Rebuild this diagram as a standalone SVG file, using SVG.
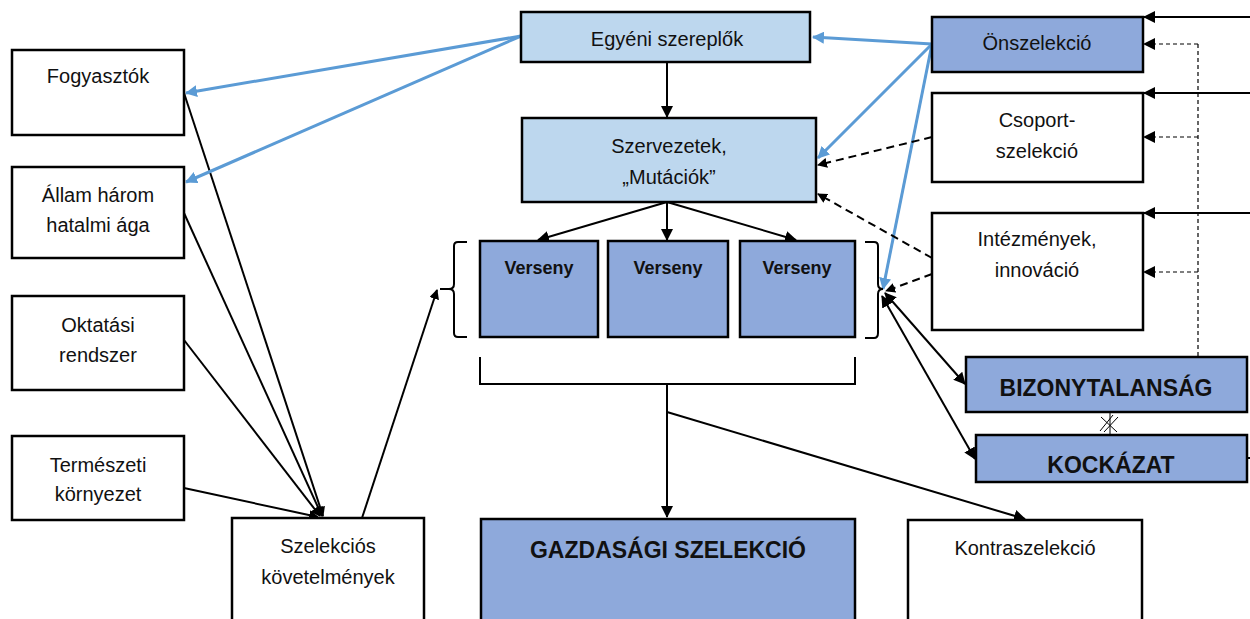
<svg xmlns="http://www.w3.org/2000/svg" width="1250" height="619" viewBox="0 0 1250 619">
<style>
.box{stroke:#000;stroke-width:2.5}
.w{fill:#fff}
.lb{fill:#BDD7EE}
.db{fill:#8EA9DB}
text{font-family:"Liberation Sans",Arial,sans-serif;font-size:20px;fill:#111;text-anchor:middle}
.b{font-weight:bold}
.big{font-size:23px}
.v{font-size:18px}
.c{fill:none;stroke:#000;stroke-width:2}
.d{fill:none;stroke:#000;stroke-width:2;stroke-dasharray:8,5}
.t{fill:none;stroke:#000;stroke-width:1.2;stroke-dasharray:4,3}
.bl{fill:none;stroke:#5B9BD5;stroke-width:3}
</style>
<defs>
<marker id="a" markerWidth="10" markerHeight="10" refX="9" refY="5" orient="auto" markerUnits="userSpaceOnUse" viewBox="0 0 10 10"><path d="M0,0 L10,5 L0,10 z" fill="#000"/></marker>
<marker id="as" markerWidth="12" markerHeight="12" refX="11" refY="6" orient="auto-start-reverse" markerUnits="userSpaceOnUse" viewBox="0 0 12 12"><path d="M0,0 L12,6 L0,12 z" fill="#000"/></marker>
<marker id="ab" markerWidth="12" markerHeight="12" refX="11" refY="6" orient="auto" markerUnits="userSpaceOnUse" viewBox="0 0 12 12"><path d="M0,0 L12,6 L0,12 z" fill="#5B9BD5"/></marker>
</defs>

<g id="connectors">
<line class="c" x1="184" y1="93" x2="323" y2="516" marker-end="url(#a)"/>
<line class="c" x1="184" y1="213" x2="322" y2="516" marker-end="url(#a)"/>
<line class="c" x1="184" y1="340" x2="320" y2="516" marker-end="url(#a)"/>
<line class="c" x1="184" y1="488" x2="318" y2="517" marker-end="url(#a)"/>
<line class="c" x1="362" y1="518" x2="437" y2="290" marker-end="url(#a)"/>
<line class="c" x1="667" y1="62" x2="667" y2="117" marker-end="url(#as)"/>
<line class="c" x1="667" y1="202" x2="538" y2="240" marker-end="url(#as)"/>
<line class="c" x1="667" y1="202" x2="667" y2="240" marker-end="url(#as)"/>
<line class="c" x1="667" y1="202" x2="796" y2="240" marker-end="url(#as)"/>
<path class="c" d="M480,357 V384 H855 V357"/>
<line class="c" x1="667" y1="384" x2="667" y2="517" marker-end="url(#as)"/>
<line class="c" x1="667" y1="412" x2="1025" y2="519" marker-end="url(#as)"/>
<line class="bl" x1="521" y1="36" x2="186" y2="93" marker-end="url(#ab)"/>
<line class="bl" x1="521" y1="36" x2="186" y2="182" marker-end="url(#ab)"/>
<line class="bl" x1="932" y1="44" x2="813" y2="37" marker-end="url(#ab)"/>
<line class="bl" x1="932" y1="44" x2="818" y2="158" marker-end="url(#ab)"/>
<line class="bl" x1="932" y1="44" x2="883" y2="289" marker-end="url(#ab)"/>
<line class="d" x1="932" y1="137" x2="818" y2="165" marker-end="url(#a)"/>
<line class="d" x1="932" y1="258" x2="818" y2="194" marker-end="url(#a)"/>
<line class="d" x1="932" y1="274" x2="886" y2="291" marker-end="url(#a)"/>
<line class="c" x1="885" y1="293" x2="965" y2="384" marker-start="url(#as)" marker-end="url(#as)"/>
<line class="c" x1="882" y1="296" x2="975" y2="459" marker-start="url(#as)" marker-end="url(#as)"/>
<line class="c" x1="1250" y1="17" x2="1144" y2="17" marker-end="url(#as)"/>
<line class="c" x1="1250" y1="93" x2="1144" y2="93" marker-end="url(#as)"/>
<line class="c" x1="1250" y1="213" x2="1144" y2="213" marker-end="url(#as)"/>
<line class="t" x1="1198" y1="44" x2="1198" y2="357"/>
<line class="t" x1="1198" y1="44" x2="1144" y2="44" marker-end="url(#as)"/>
<line class="t" x1="1198" y1="137" x2="1144" y2="137" marker-end="url(#as)"/>
<line class="t" x1="1198" y1="272" x2="1144" y2="272" marker-end="url(#as)"/>
<line class="c" x1="1247" y1="458" x2="1250" y2="458"/>
<g stroke="#000" stroke-width="1" fill="none">
<line x1="1110" y1="412" x2="1110" y2="435"/>
<line x1="1100" y1="431" x2="1113" y2="415"/>
<line x1="1104" y1="432" x2="1118" y2="417"/>
<line x1="1101" y1="417" x2="1117" y2="432"/>
</g>
</g>

<g id="brace-left"><path class="c" d="M467,242 H458 Q454,242 454,246 V284 Q454,289 449,289 H440 M449,289 Q454,289 454,294 V333 Q454,337 458,337 H467"/></g>
<g id="brace-right"><path class="c" d="M865,242 H874 Q878,242 878,246 V284 Q878,289 883,289 M883,289 Q878,289 878,294 V333 Q878,338 874,338 H865"/></g>

<g id="egyeni"><rect class="box lb" x="521" y="12" width="289" height="50"/><text x="667" y="46">Egyéni szereplők</text></g>
<g id="szervezetek"><rect class="box lb" x="522" y="118" width="294" height="84"/><text x="669" y="153">Szervezetek,</text><text x="669" y="184">„Mutációk”</text></g>
<g id="onszelekcio"><rect class="box db" x="932" y="17" width="211" height="55"/><text x="1037" y="50">Önszelekció</text></g>
<g id="csoport"><rect class="box w" x="932" y="93" width="211" height="89"/><text x="1037" y="127">Csoport-</text><text x="1037" y="158">szelekció</text></g>
<g id="intezmenyek"><rect class="box w" x="932" y="213" width="211" height="117"/><text x="1037" y="246">Intézmények,</text><text x="1037" y="277">innováció</text></g>
<g id="bizonytalansag"><rect class="box db" x="966" y="357" width="281" height="55"/><text class="b big" x="1106" y="396">BIZONYTALANSÁG</text></g>
<g id="kockazat"><rect class="box db" x="976" y="435" width="271" height="47"/><text class="b big" x="1111" y="473">KOCKÁZAT</text></g>

<g id="verseny1"><rect class="box db" x="480" y="241" width="118" height="96"/><text class="b v" x="539" y="274">Verseny</text></g>
<g id="verseny2"><rect class="box db" x="608" y="241" width="120" height="96"/><text class="b v" x="668" y="274">Verseny</text></g>
<g id="verseny3"><rect class="box db" x="740" y="241" width="115" height="96"/><text class="b v" x="797" y="274">Verseny</text></g>

<g id="fogyasztok"><rect class="box w" x="12" y="50" width="172" height="85"/><text x="98" y="83">Fogyasztók</text></g>
<g id="allam"><rect class="box w" x="12" y="167" width="172" height="91"/><text x="98" y="202">Állam három</text><text x="98" y="232">hatalmi ága</text></g>
<g id="oktatasi"><rect class="box w" x="12" y="296" width="172" height="94"/><text x="98" y="332">Oktatási</text><text x="98" y="362">rendszer</text></g>
<g id="termeszeti"><rect class="box w" x="12" y="436" width="172" height="84"/><text x="98" y="472">Természeti</text><text x="98" y="501">környezet</text></g>

<g id="szelekcios"><rect class="box w" x="232" y="518" width="192" height="110"/><text x="328" y="553">Szelekciós</text><text x="328" y="584">követelmények</text></g>
<g id="gazdasagi"><rect class="box db" x="481" y="519" width="374" height="110"/><text class="b big" x="668" y="558">GAZDASÁGI SZELEKCIÓ</text></g>
<g id="kontraszelekcio"><rect class="box w" x="908" y="520" width="234" height="110"/><text x="1025" y="555">Kontraszelekció</text></g>
</svg>
